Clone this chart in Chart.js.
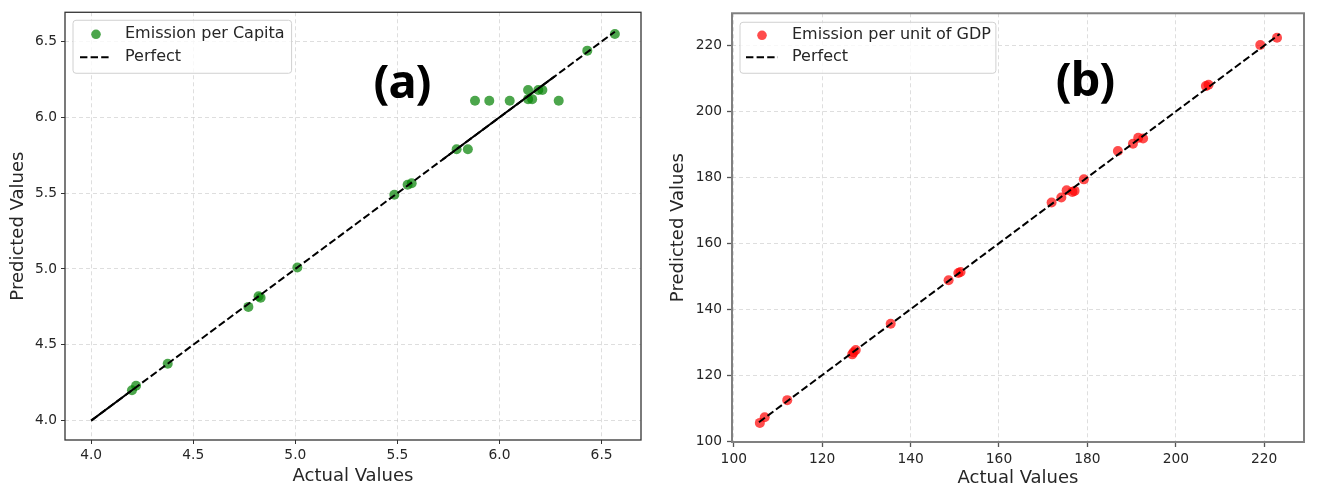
<!DOCTYPE html>
<html><head><meta charset="utf-8">
<script src="https://cdn.jsdelivr.net/npm/chart.js@4.4.1/dist/chart.umd.min.js"></script>
<style>
html,body{margin:0;padding:0;background:#fff;}
#wrap{position:relative;width:1317px;height:494px;overflow:hidden;background:#fff;}
canvas{position:absolute;top:0;}
#ca{left:0;} #cb{left:660px;}
.tag{position:absolute;font-family:'Noto Sans',sans-serif;font-weight:700;font-size:47px;line-height:47px;color:#000;transform:translateX(-50%);white-space:nowrap;letter-spacing:-1px;}
</style></head><body>
<div id="wrap">
<canvas id="ca" width="660" height="494"></canvas>
<canvas id="cb" width="657" height="494"></canvas>
<div class="tag" style="left:402px;top:57px">(a)</div>
<div class="tag" style="left:1085px;top:55px">(b)</div>
</div>
<script>
// ---- Panel (a): Emission per Capita ----
const actualA = [4.20, 4.22, 4.375, 4.77, 4.82, 4.83, 5.01, 5.485, 5.55, 5.57, 5.79, 5.845, 5.88, 5.95, 6.05, 6.14, 6.14, 6.16, 6.19, 6.21, 6.29, 6.43, 6.565];
const predictedA = [4.20, 4.23, 4.375, 4.75, 4.82, 4.81, 5.01, 5.49, 5.555, 5.565, 5.79, 5.79, 6.11, 6.11, 6.11, 6.18, 6.12, 6.12, 6.18, 6.18, 6.11, 6.44, 6.55];
const perfectA = [4.0, 6.565];
const overlapSegmentsA = [[4.0, 4.21], [5.72, 6.27]];
const ticksA = [4.0, 4.5, 5.0, 5.5, 6.0, 6.5];
const rangeA = [3.872, 6.693];

// ---- Panel (b): Emission per unit of GDP ----
const actualB = [105.9, 107.0, 112.1, 126.8, 127.1, 127.6, 135.5, 148.6, 150.8, 151.3, 171.9, 174.1, 175.3, 176.6, 177.1, 179.2, 186.9, 190.3, 191.5, 192.6, 206.8, 207.4, 219.1, 222.9];
const predictedB = [105.5, 107.2, 112.4, 126.3, 126.9, 127.6, 135.6, 148.8, 151.0, 151.3, 172.4, 173.9, 176.1, 175.6, 175.9, 179.4, 188.0, 190.2, 192.0, 191.8, 207.7, 208.1, 220.2, 222.4];
const perfectB = [105.7, 223.5];
const ticksB = [100, 120, 140, 160, 180, 200, 220];
const rangeXB = [99.6, 229.0];
const rangeYB = [99.7, 229.8];

const FONT = "'DejaVu Sans', sans-serif";
const TEXT = '#262626';

const framePlugin = {
  id: 'frame',
  afterDatasetsDraw(chart, args, o) {
    const {ctx, chartArea: a} = chart;
    ctx.save();
    ctx.strokeStyle = o.color; ctx.lineWidth = o.width;
    ctx.strokeRect(a.left, a.top, a.right - a.left, a.bottom - a.top);
    ctx.restore();
  }
};

const boxLegend = {
  id: 'boxLegend',
  afterDraw(chart, args, o) {
    const {ctx, chartArea: a} = chart;
    const pts = chart.data.datasets[0], line = chart.data.datasets[1];
    ctx.save();
    ctx.font = o.fontSize + 'px ' + FONT;
    const tw = Math.max(ctx.measureText(pts.label).width, ctx.measureText(line.label).width);
    const x = a.left + o.dx, y = a.top + o.dy, w = o.textX + tw + o.padR, h = o.h, r = 3;
    ctx.beginPath();
    ctx.moveTo(x + r, y); ctx.lineTo(x + w - r, y); ctx.arcTo(x + w, y, x + w, y + r, r);
    ctx.lineTo(x + w, y + h - r); ctx.arcTo(x + w, y + h, x + w - r, y + h, r);
    ctx.lineTo(x + r, y + h); ctx.arcTo(x, y + h, x, y + h - r, r);
    ctx.lineTo(x, y + r); ctx.arcTo(x, y, x + r, y, r); ctx.closePath();
    ctx.fillStyle = 'rgba(255,255,255,0.8)'; ctx.fill();
    ctx.strokeStyle = '#d0d0d0'; ctx.lineWidth = 1; ctx.stroke();
    ctx.beginPath(); ctx.fillStyle = pts.backgroundColor;
    ctx.arc(x + o.markX, y + o.row1, o.markR, 0, Math.PI * 2); ctx.fill();
    ctx.beginPath(); ctx.strokeStyle = line.borderColor; ctx.lineWidth = line.borderWidth;
    ctx.setLineDash(line.borderDash);
    ctx.moveTo(x + o.lineX0, y + o.row2); ctx.lineTo(x + o.lineX1, y + o.row2); ctx.stroke();
    ctx.setLineDash([]);
    ctx.fillStyle = TEXT; ctx.textBaseline = 'middle'; ctx.textAlign = 'left';
    ctx.fillText(pts.label, x + o.textX, y + o.row1);
    ctx.fillText(line.label, x + o.textX, y + o.row2);
    ctx.restore();
  }
};

function axis(tickVals, range, title, fmt, p) {
  return {
    type: 'linear', min: range[0], max: range[1],
    afterBuildTicks: s => { s.ticks = tickVals.map(v => ({value: v})); },
    afterFit: s => { if (p.width !== undefined) s.width = p.width; if (p.height !== undefined) s.height = p.height; },
    ticks: {callback: v => fmt(v), font: {family: FONT, size: 13.8}, color: TEXT, padding: p.tickPad, maxRotation: 0, autoSkip: false},
    grid: {color: 'rgba(200,200,200,0.6)', lineWidth: 1, drawTicks: true, tickLength: p.tickLen, tickColor: p.tickColor, tickWidth: p.tickWidth, tickBorderDash: []},
    border: {display: false, dash: [4, 3]},
    title: {display: true, text: title, font: {family: FONT, size: 18}, color: TEXT, padding: p.titlePad}
  };
}

function makeChart(id, cfg) {
  const pts = cfg.actual.map((v, i) => ({x: v, y: cfg.predicted[i]}));
  const datasets = [
    {type: 'scatter', label: cfg.label, data: pts, backgroundColor: cfg.color, borderWidth: 0, pointRadius: 5, pointHoverRadius: 5, order: 3},
    {type: 'line', label: 'Perfect', data: cfg.perfect.map(v => ({x: v, y: v})), borderColor: '#000', borderWidth: 2, borderDash: [7.4, 3.2], pointRadius: 0, fill: false, order: 1}
  ];
  if (cfg.overlap) {
    datasets.push({type: 'line', label: '', data: cfg.overlap.flatMap(s => [{x: s[0], y: s[0]}, {x: s[1], y: s[1]}, {x: s[1], y: null}]),
      borderColor: '#000', borderWidth: 2, pointRadius: 0, fill: false, spanGaps: false, order: 2});
  }
  return new Chart(document.getElementById(id), {
    type: 'scatter',
    data: {datasets},
    plugins: [framePlugin, boxLegend],
    options: {
      responsive: false, animation: false, devicePixelRatio: 1,
      layout: {padding: cfg.padding},
      plugins: {legend: {display: false}, tooltip: {enabled: false}, frame: cfg.frame, boxLegend: cfg.legend},
      scales: {x: cfg.x, y: cfg.y}
    }
  });
}

makeChart('ca', {
  actual: actualA, predicted: predictedA, perfect: perfectA, overlap: overlapSegmentsA,
  label: 'Emission per Capita', color: 'rgba(0,128,0,0.7)',
  padding: {left: 0, top: 11, right: 19, bottom: 0},
  frame: {color: '#333333', width: 1.3},
  legend: {dx: 8, dy: 8, h: 53, textX: 52, padR: 7, fontSize: 16, markX: 23, markR: 4.8, row1: 14, row2: 37, lineX0: 7, lineX1: 38},
  x: axis(ticksA, rangeA, 'Actual Values', v => v.toFixed(1), {height: 54, tickPad: 3, tickLen: 4, tickColor: '#333', tickWidth: 1, titlePad: {top: 0, bottom: 7}}),
  y: axis(ticksA, rangeA, 'Predicted Values', v => v.toFixed(1), {width: 65, tickPad: 4, tickLen: 4, tickColor: '#333', tickWidth: 1, titlePad: {top: 8, bottom: 0}})
});

makeChart('cb', {
  actual: actualB, predicted: predictedB, perfect: perfectB,
  label: 'Emission per unit of GDP', color: 'rgba(255,0,0,0.7)',
  padding: {left: 0, top: 12, right: 13, bottom: 0},
  frame: {color: '#808080', width: 2},
  legend: {dx: 8, dy: 9, h: 51, textX: 52, padR: 5, fontSize: 16, markX: 22, markR: 4.8, row1: 13, row2: 35, lineX0: 6, lineX1: 38},
  x: axis(ticksB, rangeXB, 'Actual Values', v => String(v), {height: 52, tickPad: 4, tickLen: 5, tickColor: '#555', tickWidth: 1.3, titlePad: {top: 0, bottom: 5}}),
  y: axis(ticksB, rangeYB, 'Predicted Values', v => String(v), {width: 72, tickPad: 5, tickLen: 5, tickColor: '#555', tickWidth: 1.3, titlePad: {top: 8, bottom: 0}})
});
</script>
</body></html>
